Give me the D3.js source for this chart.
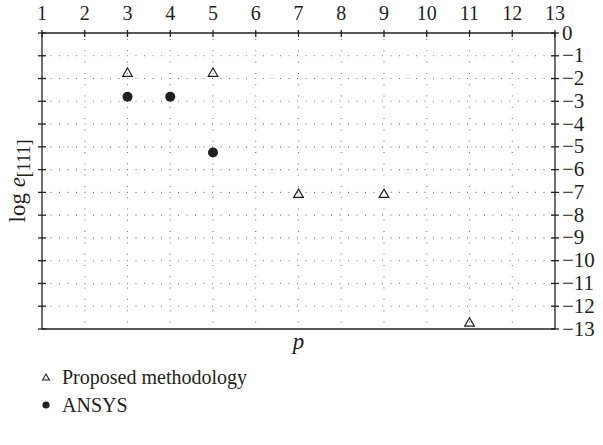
<!DOCTYPE html>
<html>
<head>
<meta charset="utf-8">
<script src="https://cdn.jsdelivr.net/npm/d3@7"></script>
</head>
<body style="margin:0; background:#fff">
<script>
//dims
const width = 603, height = 445;
const margin = {top: 33, right: 48, bottom: 116, left: 42};
const serif = '"Liberation Serif"';
const ink = '#231f20';

//data
const xTicks = [1,2,3,4,5,6,7,8,9,10,11,12,13];
const yTicks = [0,-1,-2,-3,-4,-5,-6,-7,-8,-9,-10,-11,-12,-13];
const proposedP = [3, 5, 7, 9, 11];
const proposedLog = [-1.78, -1.78, -7.1, -7.1, -12.75];
const ansysP = [3, 4, 5];
const ansysLog = [-2.8, -2.8, -5.25];

const svg = d3.select('body').append('svg')
  .attr('width', width)
  .attr('height', height)
  .style('font-family', serif);

const x = d3.scaleLinear().domain([1, 13]).range([margin.left, width - margin.right]);
const y = d3.scaleLinear().domain([0, -13]).range([margin.top, height - margin.bottom]);

//dotted grid
const grid = svg.append('g').attr('stroke', '#777').attr('stroke-width', 1.1);
grid.selectAll('.hgrid')
  .data(yTicks.slice(1, -1))
  .enter().append('line')
    .attr('x1', x(1)).attr('x2', x(13))
    .attr('y1', d => y(d)).attr('y2', d => y(d))
    .attr('stroke-dasharray', '1,7.5');
grid.selectAll('.vgrid')
  .data(xTicks.slice(1, -1))
  .enter().append('line')
    .attr('x1', d => x(d)).attr('x2', d => x(d))
    .attr('y1', y(0) + 6).attr('y2', y(-13))
    .attr('stroke-dasharray', '1,10.3');

//axes
const axes = svg.append('g').attr('stroke', ink).attr('stroke-width', 1.3);
//frame: top, bottom, left, right
axes.append('line').attr('x1', x(1)).attr('x2', x(13)).attr('y1', y(0)).attr('y2', y(0));
axes.append('line').attr('x1', x(1)).attr('x2', x(13)).attr('y1', y(-13)).attr('y2', y(-13));
axes.append('line').attr('x1', x(1)).attr('x2', x(1)).attr('y1', y(0)).attr('y2', y(-13));
axes.append('line').attr('x1', x(13)).attr('x2', x(13)).attr('y1', y(0)).attr('y2', y(-13));
//top ticks
axes.selectAll('.tt').data(xTicks).enter().append('line')
  .attr('x1', d => x(d)).attr('x2', d => x(d))
  .attr('y1', y(0) - 3).attr('y2', y(0) + 4);
//left + right ticks
axes.selectAll('.lt').data(yTicks).enter().append('line')
  .attr('x1', x(1) - 4).attr('x2', x(1) + 4)
  .attr('y1', d => y(d)).attr('y2', d => y(d));
axes.selectAll('.rt').data(yTicks).enter().append('line')
  .attr('x1', x(13) - 4).attr('x2', x(13) + 4)
  .attr('y1', d => y(d)).attr('y2', d => y(d));

//helper so every text carries its own font
function txt(sel, size) {
  return sel.append('text')
    .style('font-family', serif)
    .style('font-size', size + 'px')
    .attr('fill', ink);
}

//tick labels
xTicks.forEach(d => {
  txt(svg, 20).attr('x', x(d)).attr('y', y(0) - 13)
    .attr('text-anchor', 'middle').text(d);
});
yTicks.forEach(d => {
  txt(svg, 21).attr('x', x(13) + 7).attr('y', y(d) + 6.5)
    .text(d < 0 ? '\u2212' + (-d) : d);
});

//axis titles
txt(svg, 23).attr('x', (x(1) + x(13)) / 2).attr('y', y(-13) + 20)
  .attr('text-anchor', 'middle')
  .style('font-style', 'italic')
  .text('p');
const ylab = txt(svg, 23)
  .attr('transform', `translate(25,${(y(0) + y(-13)) / 2}) rotate(-90)`)
  .attr('text-anchor', 'middle');
ylab.append('tspan').text('log ');
ylab.append('tspan').style('font-style', 'italic').text('e');
ylab.append('tspan').attr('dy', 5).style('font-size', '18px').text('[111]');

//markers
const tri = d3.symbol().type(d3.symbolTriangle).size(40);
svg.selectAll('.prop').data(proposedP).enter().append('path')
  .attr('d', tri)
  .attr('transform', (d, i) => `translate(${x(d)},${y(proposedLog[i])})`)
  .attr('fill', 'none').attr('stroke', ink).attr('stroke-width', 1.2);
svg.selectAll('.ansys').data(ansysP).enter().append('circle')
  .attr('cx', d => x(d)).attr('cy', (d, i) => y(ansysLog[i]))
  .attr('r', 5).attr('fill', ink);

//legend
const legend = svg.append('g').attr('transform', 'translate(46,0)');
legend.append('path').attr('d', d3.symbol().type(d3.symbolTriangle).size(20))
  .attr('transform', 'translate(0,378)')
  .attr('fill', 'none').attr('stroke', ink).attr('stroke-width', 1.1);
txt(legend, 20).attr('x', 16).attr('y', 384).text('Proposed methodology');
legend.append('circle').attr('cx', 0).attr('cy', 405).attr('r', 3.6).attr('fill', ink);
txt(legend, 20).attr('x', 16).attr('y', 412).text('ANSYS');
</script>
</body>
</html>
